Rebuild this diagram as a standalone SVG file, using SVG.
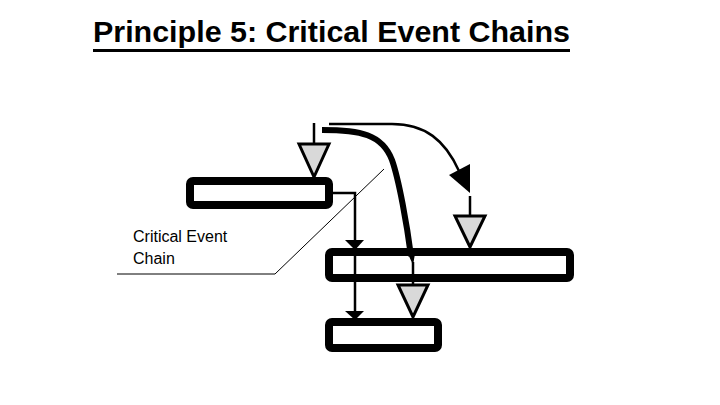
<svg xmlns="http://www.w3.org/2000/svg" width="720" height="405" viewBox="0 0 720 405">
<defs>
<style>
.box{fill:#fff;stroke:#000;stroke-width:8}
.tri{fill:#d9d9d9;stroke:#000;stroke-width:3;stroke-linejoin:miter}
.thin{fill:none;stroke:#000;stroke-width:2.5}
.hair{fill:none;stroke:#000;stroke-width:1}
.head{fill:#000;stroke:none}
.title{font-family:"Liberation Sans",Arial,sans-serif;font-weight:bold;font-size:29px;fill:#000}
.lbl{font-family:"Liberation Sans",Arial,sans-serif;font-size:16px;fill:#000}
</style>
</defs>
<rect width="720" height="405" fill="#fff"/>
<g id="title">
<text class="title" x="93" y="42" textLength="477" lengthAdjust="spacingAndGlyphs">Principle 5: Critical Event Chains</text>
<line x1="93" y1="50.5" x2="570" y2="50.5" stroke="#000" stroke-width="3"/>
</g>
<g id="label">
<text class="lbl" x="133" y="242">Critical Event</text>
<text class="lbl" x="133" y="264">Chain</text>
</g>
<g id="box1"><rect class="box" x="190" y="181" width="139" height="24" rx="3"/></g>
<g id="box2"><rect class="box" x="329" y="252" width="241" height="26" rx="3"/></g>
<g id="box3"><rect class="box" x="329" y="322" width="109" height="26" rx="3"/></g>
<g id="connectors">
<polyline class="hair" points="117,274 275,274 384,169"/>
<line class="thin" x1="314" y1="123" x2="314" y2="144"/>
<path class="thin" d="M329,124 L392,124 C425,124 445,140 459,171"/>
<polygon class="head" points="449,175 470,164 470,193"/>
<line class="thin" x1="470" y1="196" x2="470" y2="216"/>
<path d="M322,130 C360,130 382,134 392,160 C399,180 407,225 411,256" fill="none" stroke="#000" stroke-width="6"/>
<polygon class="head" points="408,254 415,254 413,265"/>
<line class="thin" x1="413" y1="262" x2="413" y2="285"/>
<polyline class="thin" points="333,193 355,193 355,320"/>
<polygon class="head" points="345,240 364,240 355,250"/>
<polygon class="head" points="345,311 364,311 355,320"/>
</g>
<g id="triangles">
<polygon class="tri" points="299,144 329,144 314,177"/>
<polygon class="tri" points="455,216 485,216 470,247"/>
<polygon class="tri" points="398,285 428,285 413,317"/>
</g>
</svg>
